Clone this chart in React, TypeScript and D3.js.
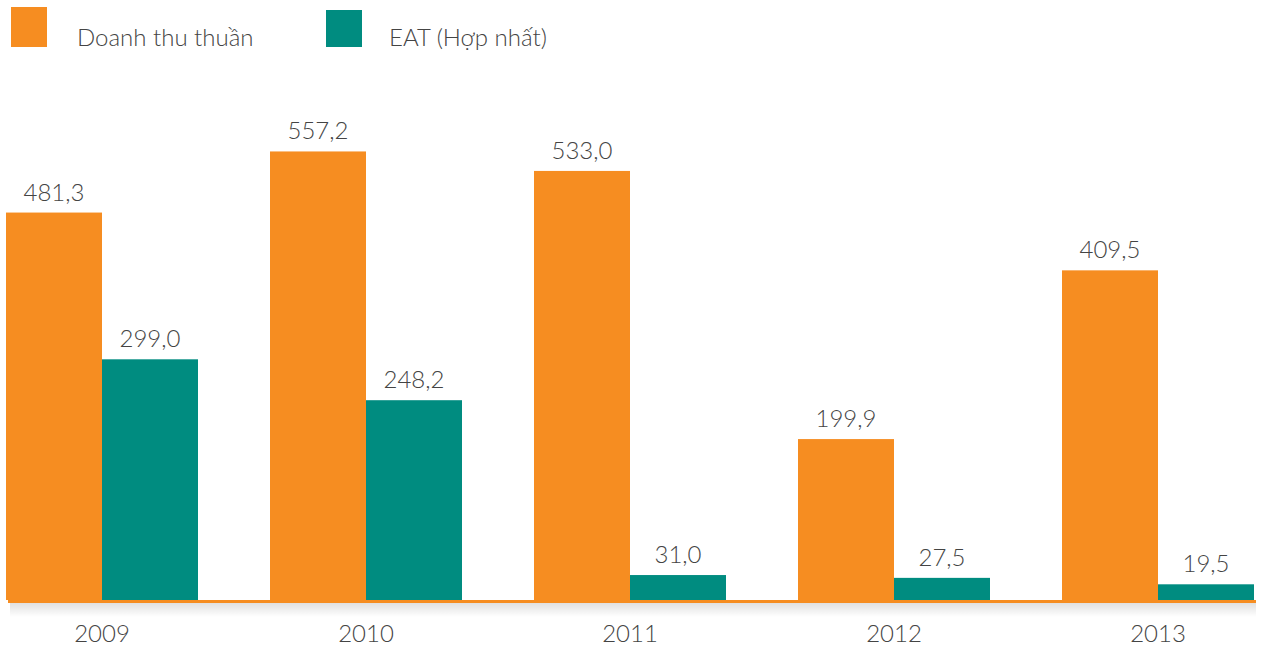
import React from 'react';
import * as d3 from 'd3';

// data (tỷ đồng)
const years = ['2009', '2010', '2011', '2012', '2013'];
const doanhThu = [481.3, 557.2, 533.0, 199.9, 409.5];
const eat = [299.0, 248.2, 31.0, 27.5, 19.5];
const seriesNames = ['Doanh thu thuần', 'EAT (Hợp nhất)'];
const seriesColors = ['#f68d21', '#008c80'];

const fmt = (v: number) => v.toFixed(1).replace('.', ',');

const width = 1262;
const height = 647;
const baseY = 600;
const font = 'Lato, "Open Sans", sans-serif';
const textColor = '#444';

export default function App() {
    const x0 = d3.scaleBand<string>()
        .domain(years)
        .range([6, 1254])
        .paddingInner(72 / 264)
        .paddingOuter(0);

    const x1 = d3.scaleBand<number>()
        .domain([0, 1])
        .range([0, x0.bandwidth()]);

    const y = d3.scaleLinear()
        .domain([0, 600])
        .range([baseY, baseY - 600 * 0.805]);

    const rows = years.map((yr, i) => ({ yr, vals: [doanhThu[i], eat[i]] }));

    return (
        <svg
            width={width}
            height={height}
            style={{ position: 'absolute', left: 0, top: 0, background: '#fff' }}
        >
            <defs>
                <linearGradient id="shadow" x1="0" y1="0" x2="0" y2="1">
                    <stop offset="0%" stopColor="#000" stopOpacity={0.12} />
                    <stop offset="100%" stopColor="#000" stopOpacity={0} />
                </linearGradient>
            </defs>

            {/* legend */}
            <rect x={11} y={7} width={36} height={40} fill={seriesColors[0]} />
            <text x={77} y={46} fontFamily={font} fontWeight={300} fontSize={24} fill={textColor}>
                {seriesNames[0]}
            </text>
            <rect x={326} y={10} width={36} height={37} fill={seriesColors[1]} />
            <text x={389} y={46} fontFamily={font} fontWeight={300} fontSize={24} fill={textColor}>
                {seriesNames[1]}
            </text>

            {/* axis shadow + line */}
            <rect x={10} y={603} width={1246} height={14} fill="url(#shadow)" />

            {/* bars */}
            {rows.map((r) => (
                <g key={r.yr} transform={`translate(${x0(r.yr)},0)`}>
                    {r.vals.map((v, j) => (
                        <g key={j}>
                            <rect
                                x={x1(j)}
                                y={y(v)}
                                width={x1.bandwidth()}
                                height={baseY - y(v)}
                                fill={seriesColors[j]}
                            />
                            <text
                                x={(x1(j) ?? 0) + x1.bandwidth() / 2}
                                y={y(v) - 12}
                                textAnchor="middle"
                                fontFamily={font}
                                fontWeight={300}
                                fontSize={24}
                                fill={textColor}
                            >
                                {fmt(v)}
                            </text>
                        </g>
                    ))}
                    <text
                        x={x0.bandwidth() / 2}
                        y={642}
                        textAnchor="middle"
                        fontFamily={font}
                        fontWeight={300}
                        fontSize={24}
                        fill={textColor}
                    >
                        {r.yr}
                    </text>
                </g>
            ))}

            <rect x={8} y={600} width={1248} height={3} fill={seriesColors[0]} />
        </svg>
    );
}
